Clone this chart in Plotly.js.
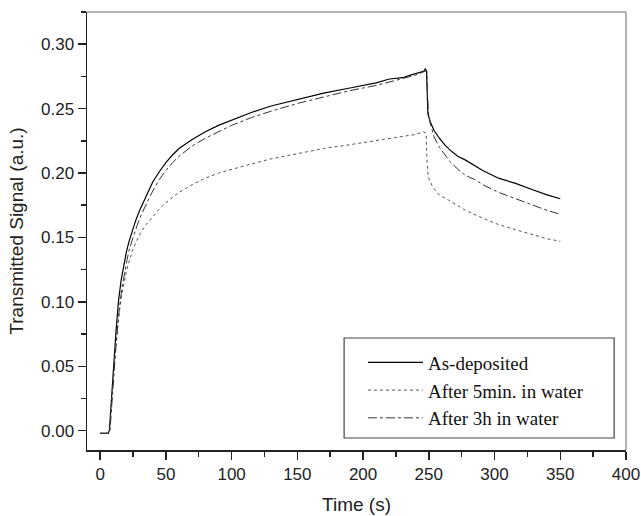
<!DOCTYPE html>
<html>
<head>
<meta charset="utf-8">
<script src="https://cdn.plot.ly/plotly-3.0.1.min.js"></script>
<style>html,body{margin:0;padding:0;background:#fff}#chart{width:641px;height:516px}</style>
</head>
<body>
<div id="chart"></div>
<script>
// As-deposited (solid)
const tAsDep = [0, 6, 7, 8, 9, 10, 11, 12, 13, 14, 16, 18, 20, 22, 24, 27, 30, 33, 36, 40, 45, 50, 55, 60, 70, 80, 90, 100, 115, 130, 150, 170, 190, 210, 220, 230, 236, 240, 244, 246, 247.5, 248.3, 248.8, 249.3, 251, 254, 258, 262, 266, 272, 278, 285, 291, 303, 316, 329, 340, 350];
const vAsDep = [-0.002, -0.002, 0.000, 0.017, 0.033, 0.048, 0.062, 0.076, 0.089, 0.101, 0.117, 0.129, 0.139, 0.147, 0.154, 0.163, 0.171, 0.178, 0.185, 0.193, 0.201, 0.208, 0.214, 0.219, 0.226, 0.232, 0.237, 0.241, 0.247, 0.252, 0.257, 0.262, 0.266, 0.270, 0.273, 0.274, 0.276, 0.277, 0.278, 0.279, 0.281, 0.279, 0.262, 0.246, 0.240, 0.233, 0.227, 0.222, 0.218, 0.213, 0.210, 0.206, 0.202, 0.196, 0.192, 0.187, 0.183, 0.180];
// After 5min. in water (dotted)
const t5min = [0, 6.5, 7.1, 8, 9, 10, 11, 12, 13, 14, 16, 18, 20, 22, 25, 28, 31, 35, 40, 45, 50, 55, 60, 70, 80, 90, 100, 115, 130, 150, 170, 190, 210, 230, 240, 246, 248, 248.5, 249.5, 253, 258, 265, 278, 291, 303, 316, 329, 340, 350];
const v5min = [-0.002, -0.002, 0.000, 0.014, 0.028, 0.041, 0.054, 0.066, 0.077, 0.087, 0.103, 0.115, 0.124, 0.131, 0.141, 0.148, 0.154, 0.160, 0.166, 0.172, 0.177, 0.181, 0.185, 0.191, 0.196, 0.200, 0.203, 0.207, 0.211, 0.215, 0.219, 0.222, 0.225, 0.228, 0.230, 0.232, 0.231, 0.212, 0.197, 0.189, 0.183, 0.179, 0.171, 0.165, 0.160, 0.156, 0.152, 0.149, 0.147];
// After 3h in water (dash-dot)
const t3h = [0, 7, 7.5, 8.5, 9.5, 10.5, 11.5, 12.5, 13.5, 14.5, 16.5, 18.5, 20.5, 22.5, 25, 28, 31, 34, 37, 40, 45, 50, 55, 60, 70, 80, 90, 100, 115, 130, 150, 170, 190, 210, 230, 240, 247, 248.5, 249, 249.6, 251, 254, 258, 262, 266, 272, 278, 285, 291, 303, 316, 329, 340, 350];
const v3h = [-0.002, -0.002, 0.000, 0.016, 0.031, 0.045, 0.058, 0.071, 0.083, 0.094, 0.110, 0.123, 0.133, 0.142, 0.150, 0.159, 0.167, 0.174, 0.180, 0.186, 0.195, 0.202, 0.208, 0.213, 0.221, 0.227, 0.232, 0.237, 0.243, 0.248, 0.254, 0.259, 0.264, 0.268, 0.273, 0.276, 0.279, 0.279, 0.262, 0.248, 0.239, 0.228, 0.220, 0.214, 0.209, 0.203, 0.198, 0.195, 0.191, 0.185, 0.180, 0.175, 0.171, 0.168];

const seriesNames = ['As-deposited', 'After 5min. in water', 'After 3h in water'];

const traces = [
  {x: tAsDep, y: vAsDep, name: seriesNames[0], mode: 'lines', line: {color: '#000000', width: 1.2, dash: 'solid'}},
  {x: t5min, y: v5min, name: seriesNames[1], mode: 'lines', line: {color: '#555555', width: 1, dash: 'dot'}},
  {x: t3h, y: v3h, name: seriesNames[2], mode: 'lines', line: {color: '#333333', width: 1, dash: 'dashdot'}}
];

const axisFont = {family: 'Arial, Liberation Sans, sans-serif', size: 17, color: '#222'};
const titleFont = {family: 'Arial, Liberation Sans, sans-serif', size: 19, color: '#222'};
const layout = {
  width: 641, height: 516,
  margin: {l: 87, r: 15, t: 12, b: 66},
  paper_bgcolor: '#fff', plot_bgcolor: '#fff',
  showlegend: true,
  xaxis: {
    range: [-10, 400], tick0: 0, dtick: 50, ticks: 'outside', ticklen: 8, tickwidth: 1.5, tickcolor: '#222',
    showline: true, linecolor: '#222', linewidth: 1.5, showgrid: false, zeroline: false,
    minor: {dtick: 25, ticks: 'outside', ticklen: 5, tickwidth: 1.5, tickcolor: '#222', showgrid: false},
    tickfont: axisFont,
    title: {text: 'Time (s)', font: titleFont, standoff: 15}
  },
  yaxis: {
    range: [-0.015, 0.325], tick0: 0, dtick: 0.05, tickformat: '.2f', ticks: 'outside', ticklen: 8, tickwidth: 1.5, tickcolor: '#222',
    showline: true, linecolor: '#222', linewidth: 1.5, showgrid: false, zeroline: false,
    minor: {dtick: 0.025, ticks: 'outside', ticklen: 5, tickwidth: 1.5, tickcolor: '#222', showgrid: false},
    tickfont: axisFont,
    title: {text: 'Transmitted Signal (a.u.)', font: titleFont, standoff: 12}
  },
  legend: {
    x: 0.512, y: 0.243, xanchor: 'left', yanchor: 'top',
    bgcolor: 'rgba(0,0,0,0)', borderwidth: 0, itemwidth: 55,
    font: {family: 'Liberation Serif, Times New Roman, serif', size: 19, color: '#111'},
    tracegroupgap: 0
  },
  shapes: [
    {type: 'line', xref: 'paper', yref: 'paper', x0: 0, x1: 1, y0: 1, y1: 1, line: {color: '#999', width: 1.5}},
    {type: 'line', xref: 'paper', yref: 'paper', x0: 1, x1: 1, y0: 0, y1: 1, line: {color: '#999', width: 1.5}},
    {type: 'rect', xref: 'paper', yref: 'paper', x0: 0.477, x1: 0.978, y0: 0.0274, y1: 0.2557, line: {color: '#444', width: 1.2}, fillcolor: 'rgba(0,0,0,0)'}
  ]
};

Plotly.newPlot('chart', traces, layout, {displayModeBar: false, staticPlot: true});
</script>
</body>
</html>
